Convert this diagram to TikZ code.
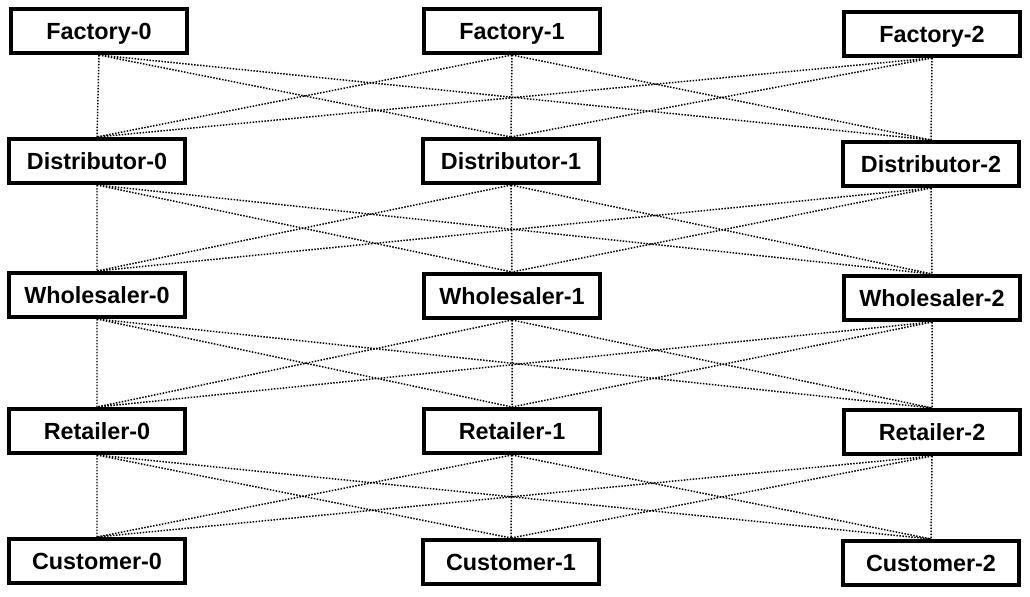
\documentclass[tikz,border=0pt]{standalone}
\usepackage{fontspec}
\setmainfont{Liberation Sans}
\usetikzlibrary{positioning}

\begin{document}
\begin{tikzpicture}[
  x=0.02cm, y=-0.02cm,
  font=\fontsize{13.3}{16}\selectfont\bfseries,
  box/.style={draw,line width=2.3pt,fill=white,inner sep=2pt,text height=1.0em,text depth=0pt,minimum width=3.52cm,minimum height=0.88cm,align=center},
  link/.style={line width=0.85pt,dash pattern=on 0.85pt off 0.85pt}]

 \useasboundingbox (0,0) rectangle (1030,596);

 % ---- factories ----
 \node[box] (f0) at (99,31) {Factory-0};
 \node[box] (f1) at (512,31) {Factory-1};
 \node[box] (f2) at (932,34) {Factory-2};

 % ---- distributors ----
 \node[box] (d0) at (97,161) {Distributor-0};
 \node[box] (d1) at (511,161) {Distributor-1};
 \node[box] (d2) at (931,164) {Distributor-2};

 % ---- wholesalers ----
 \node[box] (w0) at (97,295) {Wholesaler-0};
 \node[box] (w1) at (512,296) {Wholesaler-1};
 \node[box] (w2) at (932,298) {Wholesaler-2};

 % ---- retailers ----
 \node[box] (r0) at (97,431) {Retailer-0};
 \node[box] (r1) at (512,431) {Retailer-1};
 \node[box] (r2) at (932,432) {Retailer-2};

 % ---- customers ----
 \node[box] (c0) at (97,561) {Customer-0};
 \node[box] (c1) at (511,562) {Customer-1};
 \node[box] (c2) at (931,563) {Customer-2};

 % ---- factory -> distributor ----
 \draw[link] (f0.south) -- (d0.north) (f0.south) -- (d1.north) (f0.south) -- (d2.north);
 \draw[link] (f1.south) -- (d0.north) (f1.south) -- (d1.north) (f1.south) -- (d2.north);
 \draw[link] (f2.south) -- (d0.north) (f2.south) -- (d1.north) (f2.south) -- (d2.north);

 % ---- distributor -> wholesaler ----
 \draw[link] (d0.south) -- (w0.north) (d0.south) -- (w1.north) (d0.south) -- (w2.north);
 \draw[link] (d1.south) -- (w0.north) (d1.south) -- (w1.north) (d1.south) -- (w2.north);
 \draw[link] (d2.south) -- (w0.north) (d2.south) -- (w1.north) (d2.south) -- (w2.north);

 % ---- wholesaler -> retailer ----
 \draw[link] (w0.south) -- (r0.north) (w0.south) -- (r1.north) (w0.south) -- (r2.north);
 \draw[link] (w1.south) -- (r0.north) (w1.south) -- (r1.north) (w1.south) -- (r2.north);
 \draw[link] (w2.south) -- (r0.north) (w2.south) -- (r1.north) (w2.south) -- (r2.north);

 % ---- retailer -> customer ----
 \draw[link] (r0.south) -- (c0.north) (r0.south) -- (c1.north) (r0.south) -- (c2.north);
 \draw[link] (r1.south) -- (c0.north) (r1.south) -- (c1.north) (r1.south) -- (c2.north);
 \draw[link] (r2.south) -- (c0.north) (r2.south) -- (c1.north) (r2.south) -- (c2.north);
\end{tikzpicture}
\end{document}
